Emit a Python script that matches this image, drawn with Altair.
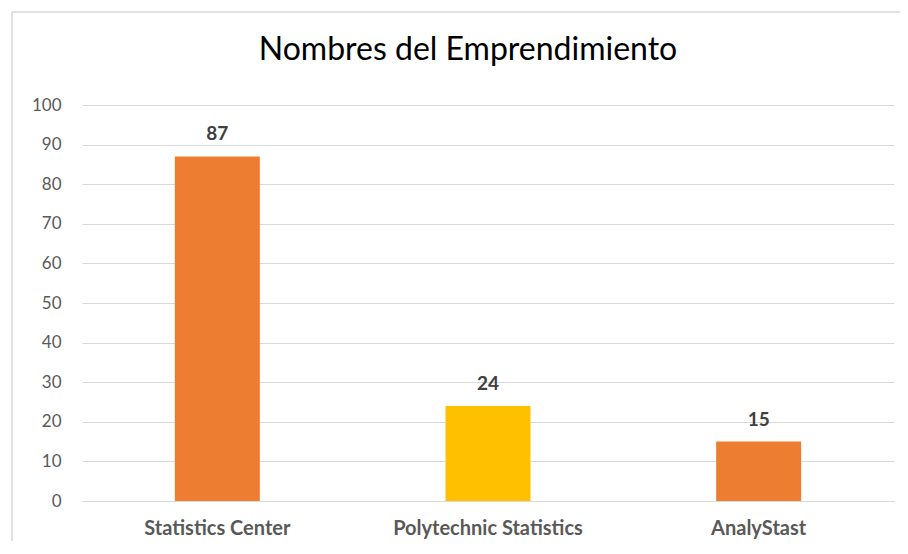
import altair as alt
import pandas as pd

categories = ["Statistics Center", "Polytechnic Statistics", "AnalyStast"]
values = [87, 24, 15]
colors = ["#ED7D31", "#FFC000", "#ED7D31"]
title_text = "Nombres del Emprendimiento"

df = pd.DataFrame({"cat": categories, "val": values, "color": colors})

FONT = "Lato"

x = alt.X("cat:N", sort=categories, title=None,
          scale=alt.Scale(paddingInner=0, paddingOuter=0),
          axis=alt.Axis(labelAngle=0, labelFont=FONT, labelFontSize=20, labelFontWeight="bold",
                        labelColor="#595959", labelPadding=17, labelLimit=0, ticks=False,
                        domainColor="#d9d9d9", domainWidth=1, grid=False))
y = alt.Y("val:Q", title=None,
          scale=alt.Scale(domain=[0, 100], nice=False),
          axis=alt.Axis(values=list(range(0, 101, 10)), labelFont=FONT, labelFontSize=17,
                        labelColor="#595959", labelPadding=21, ticks=False, domain=False,
                        grid=True, gridColor="#d9d9d9", gridWidth=1))

base = alt.Chart(df)
bars = base.mark_bar(size=85).encode(x=x, y=y, color=alt.Color("color:N", scale=None))
labels = base.mark_text(baseline="alphabetic", dy=-16, font=FONT, fontSize=19,
                        fontWeight="bold", color="#404040").encode(
    x=x, y=y, text="val:Q")

single = alt.Chart(pd.DataFrame({"t": [title_text]}))
top_line = single.mark_rule(color="#d9d9d9", strokeWidth=1.5).encode(
    x=alt.value(-70), x2=alt.value(830), y=alt.value(-93))
left_line = single.mark_rule(color="#d9d9d9", strokeWidth=1.5).encode(
    x=alt.value(-70), y=alt.value(-93), y2=alt.value(450))
title = single.mark_text(font=FONT, fontSize=32, color="#000000", align="center",
                         baseline="alphabetic").encode(
    x=alt.value(386), y=alt.value(-45), text="t:N")

chart = alt.layer(top_line, left_line, title, bars, labels).properties(
    width=812, height=396,
    autosize=alt.AutoSizeParams(type="none"),
    padding={"left": 74, "top": 97, "right": 6, "bottom": 40},
).configure(background="white").configure_view(stroke=None)

chart.save("out.html", embed_options={"renderer": "svg", "actions": False})
